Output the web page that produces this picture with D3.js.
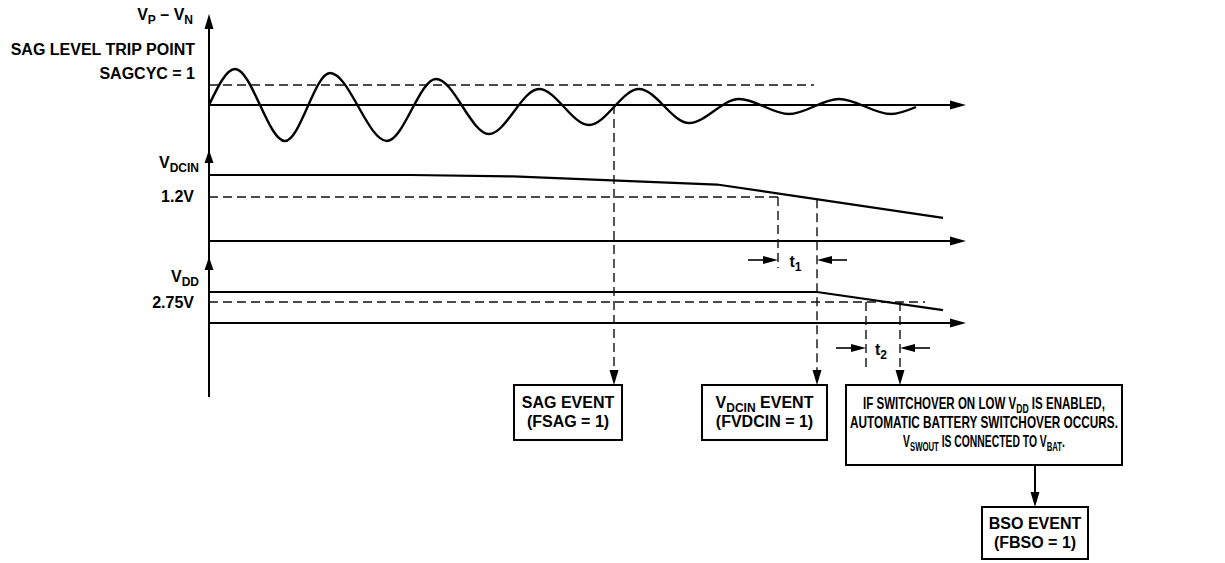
<!DOCTYPE html>
<html>
<head>
<meta charset="utf-8">
<script src="https://cdn.jsdelivr.net/npm/d3@7/dist/d3.min.js"></script>
<style>
  html, body { margin: 0; padding: 0; background: #fff; }
  svg { display: block; }
  text { font-family: "Liberation Sans", Arial, Helvetica, sans-serif; font-weight: bold; fill: #000; }
</style>
</head>
<body>
<script>
// ---- Data (time in arbitrary units, voltages in arbitrary / volt units) ----
const waveT = [0, 26, 76, 121, 178, 227, 280, 330, 380, 430, 480, 530, 580, 630, 682, 707];
const waveV = [0, 36, -36, 32, -36, 26, -29, 16, -20, 16, -18, 6, -9, 6, -9, -2];
const sagLevel = 20;
const sagLevelEndT = 605;

const vdcinT = [0, 202, 304, 508, 734];
const vdcinV = [1.8, 1.8, 1.76, 1.54, 0.63];
const vdcinThreshold = 1.2;

const vddT = [0, 608, 734];
const vddV = [3.3, 3.3, 2.31];
const vddThreshold = 2.75;
const vddThresholdEndT = 716;

const eventNames = ["sag", "vdcinTrip", "vdcin", "vddTrip", "bso"];
const eventTimes = [405, 569, 608, 657, 691];

const axisEndT = 757;

// ---- Setup ----
const W = 1225, H = 563;
const FS = "16px", SUB = "12px";
const svg = d3.select("body").append("svg").attr("width", W).attr("height", H);

const x = d3.scaleLinear().domain([0, axisEndT]).range([209, 966]);
const y1 = d3.scaleLinear().domain([-40, 40]).range([145, 65]);
const y2 = d3.scaleLinear().domain([0, 1.8]).range([241, 175]);
const y3 = d3.scaleLinear().domain([1.6, 3.3]).range([323, 292]);

const ev = {};
eventNames.forEach((n, i) => ev[n] = eventTimes[i]);

function interpAt(T, V, t) {
  for (let i = 0; i < T.length - 1; i++) {
    if (t >= T[i] && t <= T[i + 1]) {
      const f = (t - T[i]) / (T[i + 1] - T[i]);
      return V[i] + f * (V[i + 1] - V[i]);
    }
  }
  return V[V.length - 1];
}

const g = svg.append("g");

function arrowHead(tx, ty, dir, len, wid) {
  let p;
  const h = wid / 2;
  if (dir === "up") p = [[tx, ty], [tx - h, ty + len], [tx + h, ty + len]];
  if (dir === "down") p = [[tx, ty], [tx - h, ty - len], [tx + h, ty - len]];
  if (dir === "right") p = [[tx, ty], [tx - len, ty - h], [tx - len, ty + h]];
  if (dir === "left") p = [[tx, ty], [tx + len, ty - h], [tx + len, ty + h]];
  g.append("path").attr("d", "M" + p.map(q => q.join(",")).join("L") + "Z").attr("fill", "#000");
}

function line(x1, y1_, x2, y2_, opts) {
  opts = opts || {};
  return g.append("line")
    .attr("x1", x1).attr("y1", y1_).attr("x2", x2).attr("y2", y2_)
    .attr("stroke", opts.color || "#000")
    .attr("stroke-width", opts.w || 2)
    .attr("stroke-dasharray", opts.dash || null);
}

const DASH = { w: 1.4, dash: "9,5", color: "#111" };

// ---- Vertical axis ----
line(x(0), 397, x(0), 20);
arrowHead(x(0), 14, "up", 15, 9);
arrowHead(x(0), 150, "up", 13, 9);
arrowHead(x(0), 257, "up", 13, 9);

// ---- Horizontal axes ----
[y1(0), y2(0), y3(1.6)].forEach(yy => {
  line(x(0), yy, x(axisEndT) - 10, yy);
  arrowHead(x(axisEndT), yy, "right", 16, 9);
});

// ---- Dashed thresholds ----
line(x(0), y1(sagLevel), x(sagLevelEndT), y1(sagLevel), DASH);
line(x(0), y2(vdcinThreshold), x(ev.vdcinTrip), y2(vdcinThreshold), DASH);
line(x(0), y3(vddThreshold), x(vddThresholdEndT), y3(vddThreshold), DASH);

// ---- Waveforms ----
const wavePts = waveT.map((t, i) => [x(t), y1(waveV[i])]);
g.append("path")
  .attr("d", d3.line().curve(d3.curveMonotoneX)(wavePts))
  .attr("fill", "none").attr("stroke", "#000").attr("stroke-width", 2.4);

g.append("path")
  .attr("d", d3.line()(vdcinT.map((t, i) => [x(t), y2(vdcinV[i])])))
  .attr("fill", "none").attr("stroke", "#000").attr("stroke-width", 2.2);

g.append("path")
  .attr("d", d3.line()(vddT.map((t, i) => [x(t), y3(vddV[i])])))
  .attr("fill", "none").attr("stroke", "#000").attr("stroke-width", 2.2);

// ---- Event dashed verticals ----
const boxTop = 385;
line(x(ev.sag), y1(0), x(ev.sag), boxTop - 12, DASH);
arrowHead(x(ev.sag), boxTop, "down", 15, 9);

line(x(ev.vdcinTrip), y2(vdcinThreshold), x(ev.vdcinTrip), 268, DASH);

line(x(ev.vdcin), y2(interpAt(vdcinT, vdcinV, ev.vdcin)), x(ev.vdcin), boxTop - 12, DASH);
arrowHead(x(ev.vdcin), boxTop, "down", 15, 9);

line(x(ev.vddTrip), y3(vddThreshold), x(ev.vddTrip), 372, DASH);
line(x(ev.bso), y3(vddThreshold), x(ev.bso), boxTop - 12, DASH);
arrowHead(x(ev.bso), boxTop, "down", 15, 9);

// ---- t1 / t2 markers ----
function timeMarker(tA, tB, yy, sub) {
  const xa = x(tA), xb = x(tB);
  line(xa - 30, yy, xa - 12, yy, { w: 1.6 });
  arrowHead(xa, yy, "right", 15, 8);
  line(xb + 12, yy, xb + 30, yy, { w: 1.6 });
  arrowHead(xb, yy, "left", 15, 8);
  const t = g.append("text").attr("x", (xa + xb) / 2 - 2).attr("y", yy + 7)
    .attr("text-anchor", "middle").style("font-size", FS);
  t.append("tspan").text("t");
  t.append("tspan").attr("dy", 4).style("font-size", SUB).text(sub);
}
timeMarker(ev.vdcinTrip, ev.vdcin, 260, "1");
timeMarker(ev.vddTrip, ev.bso, 348, "2");

// ---- Labels ----
function label(xx, yy, parts, anchor, fitWidth) {
  const t = g.append("text").attr("x", xx).attr("y", yy)
    .attr("text-anchor", anchor || "end").style("font-size", FS);
  let shifted = false;
  parts.forEach(p => {
    const s = t.append("tspan").text(p.t);
    if (p.sub && !shifted) { s.attr("dy", 4).style("font-size", SUB); shifted = true; }
    else if (p.sub) { s.style("font-size", SUB); }
    else if (!p.sub && shifted) { s.attr("dy", -4); shifted = false; }
  });
  if (fitWidth) {
    // condensed lettering: scale horizontally about the anchor point
    t.attr("x", 0).attr("y", 0);
    const w = t.node().getBBox().width;
    const sx = fitWidth / w;
    t.attr("transform", `translate(${xx},${yy}) scale(${sx},1)`);
  }
  return t;
}
label(193, 20, [{ t: "V" }, { t: "P", sub: true }, { t: " – V" }, { t: "N", sub: true }]);
label(195, 55, [{ t: "SAG LEVEL TRIP POINT" }]);
label(195, 79, [{ t: "SAGCYC = 1" }]);
label(199, 168, [{ t: "V" }, { t: "DCIN", sub: true }]);
label(194, 202, [{ t: "1.2V" }]);
label(199, 282, [{ t: "V" }, { t: "DD", sub: true }]);
label(194, 308, [{ t: "2.75V" }]);

// ---- Boxes ----
function box(x0, y0, w, h) {
  g.append("rect").attr("x", x0).attr("y", y0).attr("width", w).attr("height", h)
    .attr("fill", "#fff").attr("stroke", "#000").attr("stroke-width", 2);
}
box(514, boxTop, 108, 55);
label(568, 408, [{ t: "SAG EVENT" }], "middle");
label(568, 427, [{ t: "(FSAG = 1)" }], "middle");

box(702, boxTop, 125, 55);
label(764.5, 408, [{ t: "V" }, { t: "DCIN", sub: true }, { t: " EVENT" }], "middle");
label(764.5, 427, [{ t: "(FVDCIN = 1)" }], "middle");

box(846, boxTop, 276, 80);
label(984, 409, [{ t: "IF SWITCHOVER ON LOW V" }, { t: "DD", sub: true }, { t: " IS ENABLED," }], "middle", 242);
label(984, 428, [{ t: "AUTOMATIC BATTERY SWITCHOVER OCCURS." }], "middle", 268);
label(984, 447, [{ t: "V" }, { t: "SWOUT", sub: true }, { t: " IS CONNECTED TO V" }, { t: "BAT", sub: true }, { t: "." }], "middle", 162);

line(1035, boxTop + 80, 1035, 495);
arrowHead(1035, 507, "down", 15, 9);

box(982, 507, 106, 52);
label(1035, 529, [{ t: "BSO EVENT" }], "middle");
label(1035, 548, [{ t: "(FBSO = 1)" }], "middle");
</script>
</body>
</html>
